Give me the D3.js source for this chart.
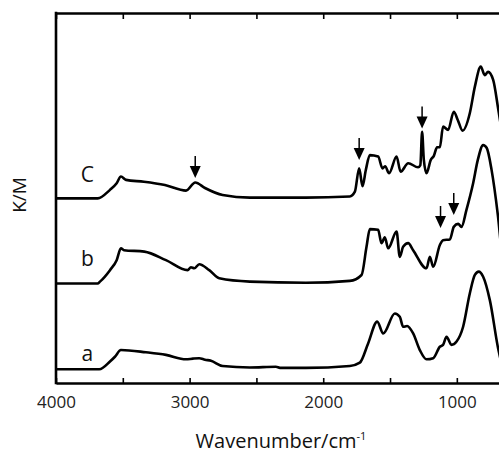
<!DOCTYPE html>
<html>
<head>
<meta charset="utf-8">
<script src="https://cdn.jsdelivr.net/npm/d3@7"></script>
<style>
  body { margin: 0; background: #fff; }
  svg { display: block; font-family: "Open Sans", sans-serif; }
</style>
</head>
<body>
<svg id="chart" width="499" height="454"></svg>
<script>
// spectra: wavenumber (cm-1) and K/M in arbitrary units
const waveC = [4000, 3688, 3596, 3546, 3514, 3476, 3342, 3185, 3027, 2958, 2885, 2753, 2549, 2130, 1801, 1763, 1731, 1706, 1681, 1651, 1589, 1556, 1537, 1507, 1451, 1421, 1364, 1290, 1273, 1260, 1247, 1227, 1195, 1172, 1148, 1127, 1103, 1065, 1023, 993, 957, 903, 865, 821, 791, 766, 728, 690, 641, 566];
const valC  = [49.9, 49.9, 52.2, 54.0, 55.8, 54.9, 54.4, 53.5, 52.0, 54.2, 52.7, 50.8, 50.1, 50.1, 50.4, 51.7, 58.0, 53.2, 57.6, 61.6, 61.2, 58.0, 58.6, 56.7, 61.2, 57.1, 59.4, 58.3, 58.9, 67.9, 60.3, 56.7, 60.3, 61.4, 63.7, 63.7, 69.3, 68.4, 73.3, 71.1, 68.2, 72.9, 80.1, 85.5, 83.2, 84.1, 81.9, 74.0, 63.0, 52.0];

const waveB = [4000, 3688, 3671, 3596, 3546, 3514, 3491, 3339, 3177, 3015, 2990, 2965, 2928, 2853, 2778, 2549, 2130, 1801, 1713, 1676, 1651, 1589, 1564, 1539, 1514, 1451, 1427, 1402, 1364, 1327, 1227, 1202, 1177, 1127, 1103, 1052, 1023, 990, 965, 928, 878, 843, 803, 776, 740, 693, 656, 604];
const valB  = [26.9, 26.9, 27.4, 30.5, 33.2, 36.4, 35.9, 35.5, 33.2, 30.5, 31.3, 31.0, 32.1, 30.5, 28.3, 27.4, 27.1, 27.6, 29.2, 36.8, 41.6, 41.4, 37.8, 39.4, 36.4, 40.9, 34.1, 36.8, 37.8, 35.9, 31.0, 34.1, 31.4, 37.3, 38.6, 38.8, 42.2, 43.0, 42.2, 46.8, 54.0, 60.3, 64.3, 63.5, 57.6, 45.4, 33.2, 28.4];

const waveA = [4000, 3676, 3596, 3559, 3514, 3327, 3177, 3027, 2975, 2928, 2885, 2840, 2753, 2549, 2354, 2324, 2130, 1801, 1726, 1664, 1596, 1551, 1464, 1427, 1402, 1372, 1327, 1277, 1227, 1177, 1127, 1103, 1077, 1040, 1002, 953, 903, 865, 836, 803, 753, 686, 656, 604];
const valA  = [3.7, 3.7, 5.8, 7.1, 8.9, 8.3, 7.6, 6.4, 6.6, 6.7, 6.3, 6.0, 4.6, 4.2, 4.4, 4.1, 4.1, 4.6, 5.5, 10.7, 16.6, 13.4, 18.8, 17.9, 15.2, 15.4, 13.4, 8.9, 6.4, 6.7, 9.8, 10.3, 12.5, 10.3, 11.2, 15.2, 24.2, 29.2, 30.1, 28.7, 22.4, 8.5, 4.6, 3.8];

// arrows marking new bands (tip position)
const arrowWave = [2958, 1731, 1260, 1122, 1023];
const arrowVal  = [55.4, 60.3, 68.8, 41.9, 45.4];

// trace labels
const labelText = ["C", "b", "a"];
const labelVal  = [54.3, 31.6, 5.9];
const labelWave = 3765;

const xTicks = [4000, 3500, 3000, 2500, 2000, 1500, 1000, 500];
const xTickLabels = [4000, 3000, 2000, 1000];

const svg = d3.select("#chart");

const x = d3.scaleLinear().domain([4000, 400]).range([56, 537]);
const y = d3.scaleLinear().domain([0, 100]).range([383, 13]);

// frame
const axisB = svg.append("g")
    .attr("transform", `translate(0,${y(0)})`)
    .call(d3.axisBottom(x)
        .tickValues(xTicks)
        .tickSizeInner(-5)
        .tickSizeOuter(0)
        .tickPadding(13)
        .tickFormat(d => xTickLabels.includes(d) ? d : ""));

const axisT = svg.append("g")
    .attr("transform", `translate(0,${y(100)})`)
    .call(d3.axisTop(x)
        .tickValues(xTicks)
        .tickSizeInner(-6)
        .tickSizeOuter(0)
        .tickFormat(""));

[axisB, axisT].forEach(g => {
    g.select(".domain").attr("stroke", "#000").attr("stroke-width", 2.6);
    g.selectAll(".tick line").attr("stroke", "#000").attr("stroke-width", 1.6);
});
axisB.selectAll(".tick text")
    .attr("font-family", "Open Sans")
    .attr("font-size", 17)
    .attr("fill", "#222");

svg.append("line")
    .attr("x1", x(4000)).attr("x2", x(4000))
    .attr("y1", y(100) - 1.3).attr("y2", y(0) + 1.3)
    .attr("stroke", "#000")
    .attr("stroke-width", 2.6);

// spectra
const line = d3.line()
    .x(d => x(d[0]))
    .y(d => y(d[1]))
    .curve(d3.curveMonotoneX);

const traces = [
    d3.zip(waveA, valA),
    d3.zip(waveB, valB),
    d3.zip(waveC, valC)
];

svg.append("g").selectAll("path")
    .data(traces)
    .join("path")
    .attr("d", line)
    .attr("fill", "none")
    .attr("stroke", "#000")
    .attr("stroke-width", 2.6)
    .attr("stroke-linejoin", "round");

// arrows
const arrows = svg.append("g").selectAll("g")
    .data(d3.zip(arrowWave, arrowVal))
    .join("g")
    .attr("transform", d => `translate(${x(d[0])},${y(d[1])})`);
arrows.append("line")
    .attr("x1", 0).attr("x2", 0)
    .attr("y1", -22).attr("y2", -8)
    .attr("stroke", "#000")
    .attr("stroke-width", 1.5);
arrows.append("path")
    .attr("d", "M0,0 L-5.5,-12 L5.5,-12 Z")
    .attr("fill", "#000");

// trace labels
svg.append("g").selectAll("text")
    .data(d3.zip(labelText, labelVal))
    .join("text")
    .attr("x", x(labelWave))
    .attr("y", d => y(d[1]))
    .attr("text-anchor", "middle")
    .attr("font-size", 21)
    .attr("fill", "#111")
    .text(d => d[0]);

// axis titles
svg.append("text")
    .attr("transform", "translate(26,195) rotate(-90)")
    .attr("text-anchor", "middle")
    .attr("font-size", 19)
    .attr("fill", "#111")
    .text("K/M");

const xt = svg.append("text")
    .attr("x", 281)
    .attr("y", 448)
    .attr("text-anchor", "middle")
    .attr("font-size", 20)
    .attr("fill", "#111")
    .text("Wavenumber/cm");
xt.append("tspan")
    .attr("dy", -8)
    .attr("font-size", 11)
    .text("-1");
</script>
</body>
</html>
